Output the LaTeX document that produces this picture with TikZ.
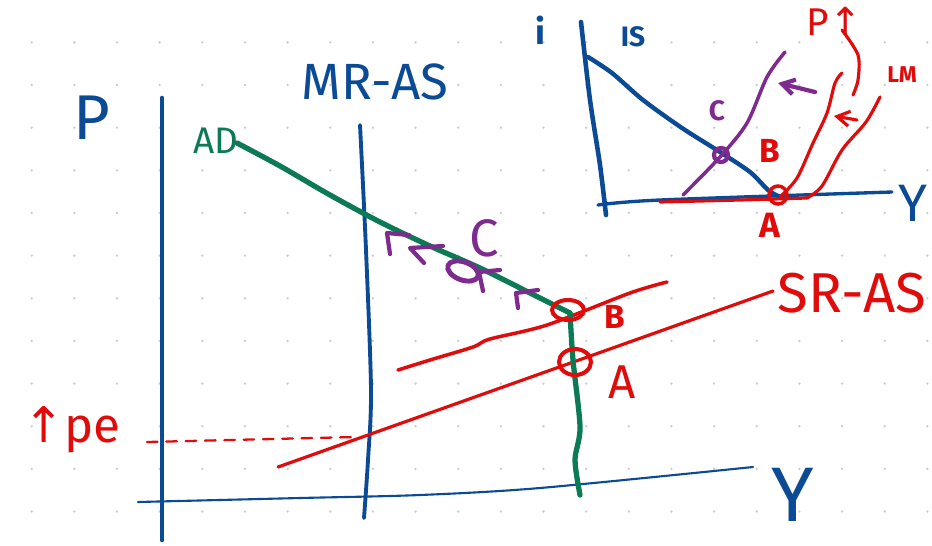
\documentclass[tikz,border=0pt]{standalone}
\usepackage{fontspec}
\setmainfont{Fira Sans}
\newfontfamily\flechas{DejaVu Sans}
\usepackage{xcolor}
\usepackage{tikz}
\usetikzlibrary{arrows.meta}
\definecolor{azul}{HTML}{0B4A95}
\definecolor{verde}{HTML}{0B7A55}
\definecolor{rojo}{HTML}{E00B0B}
\definecolor{morado}{HTML}{7E2A8E}
\definecolor{punto}{HTML}{CCCCCC}

\begin{document}
\begin{tikzpicture}[x=0.02cm, y=-0.02cm,
      eje/.style={draw=azul, line width=2.6pt, line cap=round, line join=round},
      ejefino/.style={draw=azul, line width=1.2pt, line cap=round},
      curvaroja/.style={draw=rojo, line width=1.8pt, line cap=round, line join=round},
      curvaverde/.style={draw=verde, line width=3pt, line cap=round, line join=round},
      trazo/.style={draw=morado, line width=2.4pt, line cap=round, line join=round},
      circulo/.style={draw=rojo, line width=2.3pt},
      flecha/.style={-{Straight Barb[length=2.5mm, width=3mm]}},
      etiq/.style={inner sep=0pt, font=\fontsize{#1}{#1}\selectfont},
      negrita/.style={inner sep=0pt, font=\fontsize{#1}{#1}\selectfont\bfseries}]

    % papel punteado
    \useasboundingbox (0,0) rectangle (932,545);
    \fill[white] (0,0) rectangle (932,545);
    \foreach \i in {0,...,21}
      \foreach \j in {0,...,11}
        \fill[punto] (31.7+42.65*\i, 42.35+42.65*\j) circle [radius=1.3];

    % grafico principal
    \draw[eje] (162,98) -- (162,540);
    \draw[ejefino] plot[smooth] coordinates {(138,502) (300,498) (420,495) (540,488) (753,467)};
    \draw[eje, line width=2.2pt] plot[smooth] coordinates {(360,125) (366,250) (371,390) (368,460) (364,518)};
    \node[etiq=36, text=azul] (p) at (92,118) {P};
    \node[etiq=29, text=azul] (mras) at (375,82) {MR-AS};
    \node[etiq=44, text=azul] (y) at (793,495) {Y};

    \coordinate (A) at (575,362);
    \coordinate (B) at (568,310);
    \coordinate (C) at (463,271);
    \draw[curvaroja, line width=1.3pt, dash pattern=on 6pt off 5pt] (147,442) -- (355,437);
    \draw[curvaroja] (278,467) -- (773,291);
    \draw[curvaroja, line width=2pt] plot[smooth] coordinates {(398,370) (430,360) (473,347) (490,339) (547,325) (630,293) (667,282)};
    \draw[curvaverde] plot[smooth] coordinates {(237,143) (280,166) (330,195) (380,222) (430,246) (480,268) (530,293) (570,313)};
    \draw[curvaverde] plot[smooth] coordinates {(570,313) (573,360) (580,427) (575,460) (580,495)};
    \draw[circulo] (B) ellipse [x radius=16, y radius=10];
    \draw[circulo] (A) ellipse [x radius=16, y radius=13];
    \draw[trazo, line width=2.8pt] (C) ellipse [x radius=16, y radius=9, rotate=-20];
    \draw[trazo] (390,254) -- (387,233) -- (409,235);
    \draw[trazo] (443,246) -- (410,248) -- (424,263);
    \draw[trazo] (483,291) -- (479,272) -- (500,270);
    \draw[trazo] (518,308) -- (516,293) -- (538,290);

    \node[etiq=21, text=verde] (ad) at (216,141) {AD};
    \node[etiq=30, text=morado] (c) at (484,238) {C};
    \node[negrita=19, text=rojo] (b) at (615,317) {B};
    \node[etiq=27, text=rojo] (a) at (622,382) {A};
    \node[etiq=32, text=rojo] (sras) at (852,293) {SR-AS};
    \node[etiq=28, text=rojo] (pe) at (72,430) {{\flechas↑}pe};

    % recuadro IS-LM
    \draw[eje] plot[smooth] coordinates {(581,22) (590,100) (600,165) (606,215)};
    \draw[eje, line width=1.9pt] plot[smooth] coordinates {(598,205) (660,200) (892,192)};
    \draw[eje, line width=2.5pt] plot[smooth] coordinates {(588,57) (612,73) (643,100) (682,128) (720,152) (750,172) (768,190) (778,196)};
    \draw[trazo, line width=2pt] plot[smooth] coordinates {(683,195) (720,157) (747,123) (767,77) (785,52)};
    \draw[curvaroja] plot[smooth] coordinates {(660,202) (740,200) (807,198)};
    \draw[curvaroja] plot[smooth] coordinates {(807,198) (822,186) (842,150) (866,122) (880,97)};
    \draw[curvaroja] plot[smooth] coordinates {(780,197) (797,178) (813,143) (827,113) (835,83) (842,73)};
    \draw[curvaroja] plot[smooth] coordinates {(842,30) (858,55) (858,80) (853,95)};
    \coordinate (lmini) at (857,120);
    \coordinate (lmfin) at (834,116);
    \draw[curvaroja, flecha] (lmini) -- (lmfin);
    \coordinate (mini) at (815,92);
    \coordinate (mfin) at (778,83);
    \draw[trazo, flecha] (mini) -- (mfin);
    \coordinate (Ai) at (778,195);
    \coordinate (Ci) at (721,155);
    \draw[trazo] (Ci) circle [radius=7];
    \draw[circulo, line width=2pt] (Ai) circle [radius=9];

    \node[negrita=20, text=azul] (i) at (540,30) {i};
    \node[negrita=16, text=azul] (is) at (633,37) {IS};
    \node[etiq=30, text=azul] (yi) at (913,203) {Y};
    \node[etiq=22, text=rojo] (pi) at (834,21) {P{\flechas↑}};
    \node[negrita=13, text=rojo] (lm) at (902,75) {LM};
    \node[negrita=16, text=morado] (ci) at (717,111) {C};
    \node[negrita=19, text=rojo] (bi) at (770,151) {B};
    \node[negrita=20, text=rojo] (ai) at (770,225) {A};
  \end{tikzpicture}
\end{document}
